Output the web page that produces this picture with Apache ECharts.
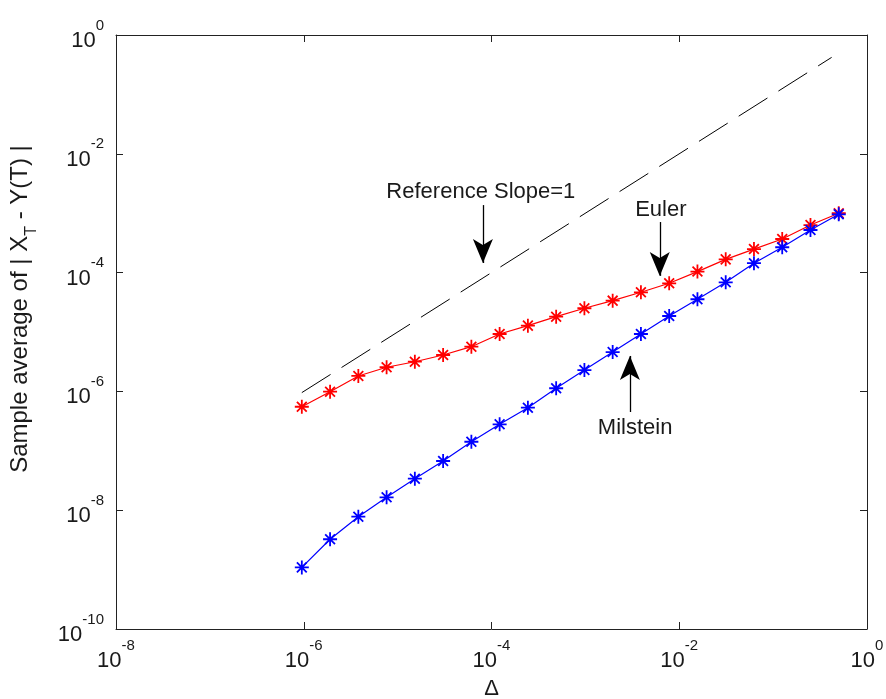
<!DOCTYPE html>
<html>
<head>
<meta charset="utf-8">
<script src="https://cdn.jsdelivr.net/npm/echarts@6/dist/echarts.min.js"></script>
<style>html,body{margin:0;padding:0;background:#fff;}#c{width:886px;height:699px;}</style>
</head>
<body>
<div id="c"></div>
<script>
// step sizes Delta = 2^-20 ... 2^-1
const delta = [9.5367e-7, 1.9073e-6, 3.8147e-6, 7.6294e-6, 1.5259e-5, 3.0518e-5, 6.1035e-5, 1.2207e-4, 2.4414e-4, 4.8828e-4,
               9.7656e-4, 1.9531e-3, 3.9063e-3, 7.8125e-3, 1.5625e-2, 3.125e-2, 6.25e-2, 0.125, 0.25, 0.5];
const eulerErr = [5.52e-7, 9.89e-7, 1.82e-6, 2.55e-6, 3.16e-6, 4.10e-6, 5.66e-6, 9.25e-6, 1.28e-5, 1.81e-5,
                  2.51e-5, 3.37e-5, 4.66e-5, 6.61e-5, 1.04e-4, 1.67e-4, 2.49e-4, 3.68e-4, 6.32e-4, 9.98e-4];
const milsteinErr = [1.09e-9, 3.24e-9, 7.78e-9, 1.65e-8, 3.39e-8, 6.73e-8, 1.42e-7, 2.79e-7, 5.32e-7, 1.13e-6,
                     2.29e-6, 4.60e-6, 9.25e-6, 1.86e-5, 3.56e-5, 6.87e-5, 1.44e-4, 2.67e-4, 5.21e-4, 9.59e-4];
// reference slope = 1 line endpoints
const refX = [9.5367e-7, 0.42];
const refY = [9.5367e-7, 0.42];
// annotations
const annoText = ['Reference Slope=1', 'Euler', 'Milstein'];
const annoTextPos = [[7.7e-5, 2.27e-3], [6.37e-3, 1.13e-3], [3.39e-3, 2.42e-7]];
const annoArrow = [[[8.1e-5, 1.37e-3], [8.1e-5, 1.45e-4]],
                   [[6.2e-3, 7.1e-4], [6.2e-3, 8.8e-5]],
                   [[2.98e-3, 4.5e-7], [2.98e-3, 3.95e-6]]];

const FONT = 'Liberation Sans, Arial, sans-serif';
const TXT = '#1a1a1a';
const star = 'path://M10,0L10,20M0,10L20,10M3,3L17,17M3,17L17,3';

function pow10Label(v) {
  const e = Math.round(Math.log10(v));
  return '{b|10}{s|' + e + '}';
}
const richLab = {
  b: {fontSize: 22, fontFamily: FONT, color: TXT, verticalAlign: 'bottom', lineHeight: 34},
  s: {fontSize: 15, fontFamily: FONT, color: TXT, verticalAlign: 'top', lineHeight: 14}
};
const axisCommon = {
  type: 'log', logBase: 10, interval: 2,
  axisLine: {show: true, onZero: false, lineStyle: {color: '#222', width: 1}},
  axisTick: {show: true, inside: true, length: 7, lineStyle: {color: '#222'}},
  splitLine: {show: false},
  minorTick: {show: false}
};

const chart = echarts.init(document.getElementById('c'), null, {renderer: 'canvas'});
const mlData = annoArrow.map(a => [{coord: a[0]}, {coord: a[1]}]);
const mpData = annoText.map((t, i) => ({
  coord: annoTextPos[i], value: t,
  label: {show: true, formatter: t, position: 'inside', fontSize: 22, fontFamily: FONT, color: TXT}
}));

chart.setOption({
  animation: false,
  backgroundColor: '#fff',
  grid: {left: 116, right: 19, top: 35, bottom: 70, containLabel: false, outerBoundsMode: 'none'},
  xAxis: [
    Object.assign({}, axisCommon, {
      min: 1e-8, max: 1, position: 'bottom',
      name: 'Δ', nameLocation: 'middle', nameGap: 49,
      nameTextStyle: {fontSize: 22, fontFamily: FONT, color: TXT},
      axisLabel: {show: true, margin: 9, formatter: pow10Label, rich: richLab}
    }),
    Object.assign({}, axisCommon, {
      min: 1e-8, max: 1, position: 'top', axisLabel: {show: false}
    })
  ],
  yAxis: [
    Object.assign({}, axisCommon, {
      min: 1e-10, max: 1, position: 'left',
      name: '{n|Sample average of | X}{t|T}{n| - Y(T) |}', nameLocation: 'middle', nameGap: 76, nameRotate: 90,
      nameTextStyle: {
        padding: [0, 0, 0, 46],
        rich: {
          n: {fontSize: 24, fontFamily: FONT, color: TXT, verticalAlign: 'top', lineHeight: 32},
          t: {fontSize: 16, fontFamily: FONT, color: TXT, verticalAlign: 'bottom', lineHeight: 32}
        }
      },
      axisLabel: {show: true, margin: 12, formatter: pow10Label, rich: richLab}
    }),
    Object.assign({}, axisCommon, {
      min: 1e-10, max: 1, position: 'right', axisLabel: {show: false}
    })
  ],
  series: [
    {
      name: 'Reference', type: 'line',
      data: refX.map((x, i) => [x, refY[i]]),
      symbol: 'none',
      lineStyle: {color: '#000', width: 1, type: [34, 13]},
      z: 2,
      markLine: {
        silent: true, symbol: ['none', 'arrow'], symbolSize: [15, 24],
        lineStyle: {color: '#000', width: 1.3, type: 'solid'},
        label: {show: false},
        data: mlData
      },
      markPoint: {
        silent: true, symbol: 'rect', symbolSize: 0,
        data: mpData
      }
    },
    {
      name: 'Euler', type: 'line',
      data: delta.map((x, i) => [x, eulerErr[i]]),
      symbol: star, symbolSize: 14,
      itemStyle: {color: '#ff0000', borderColor: '#ff0000', borderWidth: 1.8},
      lineStyle: {color: '#ff0000', width: 1.2},
      z: 3
    },
    {
      name: 'Milstein', type: 'line',
      data: delta.map((x, i) => [x, milsteinErr[i]]),
      symbol: star, symbolSize: 14,
      itemStyle: {color: '#0000ff', borderColor: '#0000ff', borderWidth: 1.8},
      lineStyle: {color: '#0000ff', width: 1.2},
      z: 4
    }
  ]
});
</script>
</body>
</html>
